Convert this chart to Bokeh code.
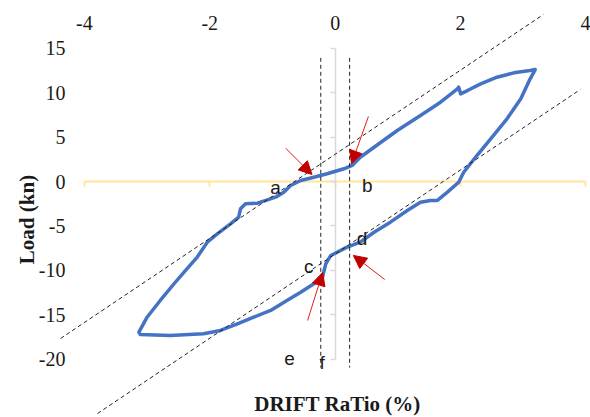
from bokeh.plotting import figure
from bokeh.models import LinearAxis, FixedTicker, Range1d, ColumnDataSource, Arrow, NormalHead
from bokeh.core.properties import value
from bokeh.embed import file_html
from bokeh.resources import INLINE

# ---- hysteresis loop (drift %, load kN) ----
drift = [-3.13, -3.00, -2.79, -2.57, -2.41, -2.20, -2.04, -1.88, -1.67, -1.54, -1.51, -1.43,
         -1.24, -1.08, -0.93, -0.82, -0.71, -0.55, -0.34, -0.13, 0.14, 0.27, 0.40, 0.62,
         0.99, 1.36, 1.68, 1.95, 1.97, 2.00, 2.11, 2.32, 2.58, 2.85, 3.11, 3.19,
         3.11, 2.96, 2.74, 2.48, 2.26, 2.05, 1.97, 1.79, 1.63, 1.52, 1.36, 1.15, 0.88,
         0.62, 0.40, 0.19, -0.07, -0.15, -0.21, -0.34, -0.55, -0.77, -1.03, -1.30, -1.56,
         -1.83, -2.10, -2.63, -3.11, -3.13]
load = [-16.93, -15.25, -13.37, -11.49, -10.18, -8.49, -6.82, -5.88, -4.75, -4.01, -3.07, -2.51,
        -2.44, -2.06, -1.69, -1.20, -0.45, 0.11, 0.48, 0.87, 1.43, 1.80, 2.73, 3.85,
        5.73, 7.42, 8.91, 10.42, 10.60, 9.85, 10.22, 10.97, 11.72, 12.21, 12.47, 12.58,
        11.54, 9.29, 7.04, 4.80, 2.92, 1.04, -0.08, -1.20, -2.13, -2.13, -2.33, -3.26, -4.57,
        -5.70, -6.82, -7.38, -8.31, -9.25, -10.93, -11.49, -12.44, -13.37, -14.49, -15.25, -15.99,
        -16.74, -17.11, -17.30, -17.19, -16.93]

# ---- axes ----
x_ticks = [-4, -2, 0, 2, 4]
y_ticks = [-20, -15, -10, -5, 0, 5, 10, 15]
x_tick_labels = ["-4", "-2", "0", "2", "4"]
y_tick_labels = ["-20", "-15", "-10", "-5", "0", "5", "10", "15"]
x_title = "DRIFT RaTio (%)"
y_title = "Load (kn)"

# ---- dashed guide lines (drift, load end points) ----
guide_x0 = [-4.38, -3.79, -0.23, 0.23]
guide_y0 = [-17.64, -26.07, 13.9, 13.9]
guide_x1 = [3.32, 3.91, -0.23, 0.23]
guide_y1 = [18.76, 10.34, -20.9, -20.9]

# ---- point labels ----
point_labels = ["a", "b", "c", "d", "e", "f"]
label_x = [-0.95, 0.51, -0.42, 0.43, -0.73, -0.21]
label_y = [-0.65, -0.45, -9.55, -6.44, -19.9, -20.3]

# ---- red arrows ----
arrow_x0 = [-0.79, 0.53, 0.79, -0.44]
arrow_y0 = [3.74, 7.30, -11.01, -15.62]
arrow_x1 = [-0.37, 0.26, 0.29, -0.20]
arrow_y1 = [0.79, 1.99, -8.31, -10.22]

SERIF = "Liberation Serif"
SANS = "Liberation Sans"
TXT = "#1a1a1a"

p = figure(width=590, height=417,
           x_range=Range1d(-5.338, 4.072), y_range=Range1d(-26.52, 20.34),
           x_axis_location=None, y_axis_location=None,
           toolbar_location=None, output_backend="svg", min_border=0)
p.outline_line_color = None
p.background_fill_color = "white"
p.border_fill_color = "white"
if p.title is not None:
    p.title.visible = False
for g in p.grid:
    g.visible = False


def bare(ax):
    ax.axis_line_color = None
    ax.major_tick_line_color = None
    ax.minor_tick_line_color = None
    ax.major_tick_in = 0
    ax.major_tick_out = 0
    ax.minor_tick_in = 0
    ax.minor_tick_out = 0
    return ax


# tick labels on top
top_ax = bare(LinearAxis(ticker=FixedTicker(ticks=x_ticks), fixed_location=16.74))
top_ax.major_label_overrides = {t: s for t, s in zip(x_ticks, x_tick_labels)}
top_ax.major_label_standoff = 3
top_ax.major_label_text_font = SERIF
top_ax.major_label_text_font_size = "20px"
top_ax.major_label_text_color = TXT
p.add_layout(top_ax, "above")

# tick labels on left + title
left_ax = bare(LinearAxis(ticker=FixedTicker(ticks=y_ticks), fixed_location=-4.254, bounds=(-23.5, 15)))
left_ax.major_label_overrides = {t: s for t, s in zip(y_ticks, y_tick_labels)}
left_ax.major_label_standoff = 3
left_ax.major_label_text_font = SERIF
left_ax.major_label_text_font_size = "20px"
left_ax.major_label_text_color = TXT
left_ax.axis_label = y_title
left_ax.axis_label_text_font = SERIF
left_ax.axis_label_text_font_style = "bold"
left_ax.axis_label_text_font_size = "21px"
left_ax.axis_label_text_color = TXT
left_ax.axis_label_standoff = -3
p.add_layout(left_ax, "left")

# bottom title
bot_ax = bare(LinearAxis(ticker=FixedTicker(ticks=[]), fixed_location=-23.6, bounds=(-4, 4.58)))
bot_ax.axis_label = x_title
bot_ax.axis_label_text_font = SERIF
bot_ax.axis_label_text_font_style = "bold"
bot_ax.axis_label_text_font_size = "21px"
bot_ax.axis_label_text_color = TXT
bot_ax.axis_label_standoff = 0
p.add_layout(bot_ax, "below")

# yellow x axis line at load = 0
xline = LinearAxis(ticker=FixedTicker(ticks=x_ticks), fixed_location=0, bounds=(-4, 4))
xline.axis_line_color = "#FFE699"
xline.axis_line_width = 2
xline.major_tick_line_color = "#FFE699"
xline.major_tick_line_width = 2
xline.major_tick_in = 0
xline.major_tick_out = 5
xline.minor_tick_line_color = None
xline.major_label_overrides = {t: "" for t in x_ticks}
xline.level = "underlay"
p.add_layout(xline, "below")

# grey y axis line at drift = 0
yline = LinearAxis(ticker=FixedTicker(ticks=y_ticks), fixed_location=0, bounds=(-20, 15))
yline.axis_line_color = "#D9D9D9"
yline.axis_line_width = 1.5
yline.major_tick_line_color = "#D9D9D9"
yline.major_tick_line_width = 1.5
yline.major_tick_in = 0
yline.major_tick_out = 5
yline.minor_tick_line_color = None
yline.major_label_overrides = {t: "" for t in y_ticks}
yline.level = "underlay"
p.add_layout(yline, "left")

# loop
p.line(drift, load, line_color="#4472C4", line_width=3.5, line_join="round", line_cap="round")

# dashed guides
p.segment(x0=guide_x0, y0=guide_y0, x1=guide_x1, y1=guide_y1,
          line_color="#222222", line_width=1, line_dash="4 3")

# letters
p.text(x=label_x, y=label_y, text=point_labels, text_font=value(SANS), text_font_size="19px",
       text_align="center", text_baseline="middle", text_color=TXT)

# arrows
arr_src = ColumnDataSource(dict(x0=arrow_x0, y0=arrow_y0, x1=arrow_x1, y1=arrow_y1))
p.add_layout(Arrow(x_start="x0", y_start="y0", x_end="x1", y_end="y1", source=arr_src,
                   line_color="#E41A1C", line_width=1,
                   end=NormalHead(size=13, fill_color="#C00000", line_color="#C00000")))

open("out.html", "w").write(file_html(p, INLINE))
